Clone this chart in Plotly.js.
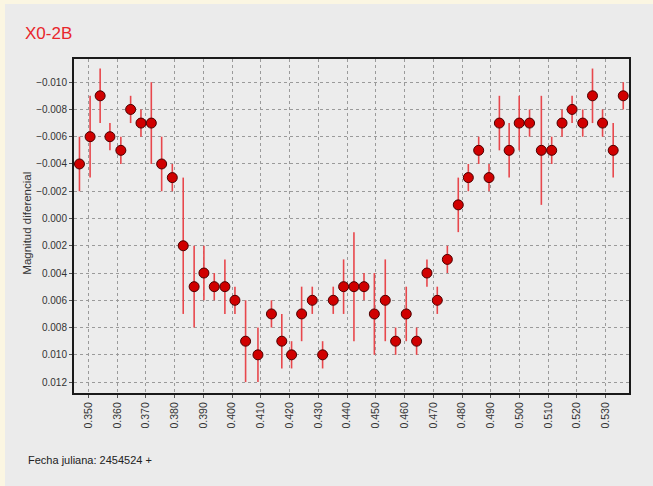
<!DOCTYPE html>
<html>
<head>
<meta charset="utf-8">
<script src="https://cdn.plot.ly/plotly-3.0.1.min.js"></script>
<style>
  html, body { margin: 0; padding: 0; background: #fbf6e2; width: 653px; height: 486px; overflow: hidden; }
  #chart { position: absolute; left: 5px; top: 4px; width: 648px; height: 482px; }
</style>
</head>
<body>
<div id="chart"></div>
<script>
// Julian date fraction (after 2454524)
const fechas = [0.3469,0.3506,0.3541,0.3575,0.3613,0.3647,0.3683,0.3719,0.3755,0.3792,
                0.3830,0.3868,0.3902,0.3938,0.3975,0.4010,0.4047,0.4090,0.4137,0.4173,
                0.4207,0.4242,0.4279,0.4315,0.4352,0.4388,0.4424,0.4459,0.4495,0.4533,
                0.4569,0.4606,0.4642,0.4678,0.4714,0.4749,0.4787,0.4822,0.4858,0.4894,
                0.4930,0.4964,0.4999,0.5035,0.5076,0.5112,0.5148,0.5183,0.5220,0.5254,
                0.5289,0.5326,0.5361];
// Differential magnitude
const magnitudes = [-0.004,-0.006,-0.009,-0.006,-0.005,-0.008,-0.007,-0.007,-0.004,-0.003,
                    0.002,0.005,0.004,0.005,0.005,0.006,0.009,0.010,0.007,0.009,
                    0.010,0.007,0.006,0.010,0.006,0.005,0.005,0.005,0.007,0.006,
                    0.009,0.007,0.009,0.004,0.006,0.003,-0.001,-0.003,-0.005,-0.003,
                    -0.007,-0.005,-0.007,-0.007,-0.005,-0.005,-0.007,-0.008,-0.007,-0.009,
                    -0.007,-0.005,-0.009];
// Error (symmetric)
const errores = [0.002,0.003,0.002,0.001,0.001,0.001,0.001,0.003,0.002,0.001,
                 0.005,0.003,0.002,0.001,0.002,0.001,0.003,0.002,0.001,0.002,
                 0.001,0.002,0.001,0.001,0.001,0.002,0.004,0.001,0.003,0.003,
                 0.001,0.002,0.001,0.001,0.001,0.001,0.002,0.001,0.001,0.001,
                 0.002,0.002,0.002,0.001,0.004,0.001,0.001,0.001,0.001,0.002,
                 0.001,0.002,0.001];

const trace = {
  x: fechas,
  y: magnitudes,
  type: 'scatter',
  mode: 'markers',
  marker: { color: '#d00000', size: 10, line: { color: '#4a0000', width: 1 } },
  error_y: { type: 'data', array: errores, visible: true, color: '#e8474c', thickness: 1.6, width: 0 },
  hoverinfo: 'x+y'
};

const font = { family: 'Liberation Sans, Arial, sans-serif', size: 10, color: '#333333' };

const layout = {
  width: 648, height: 482,
  margin: { l: 69, r: 24, t: 55, b: 93 },
  paper_bgcolor: '#ebebeb',
  plot_bgcolor: '#ececec',
  font: font,
  showlegend: false,
  title: {
    text: 'X0-2B',
    font: { family: 'Liberation Sans, Arial, sans-serif', size: 17, color: '#e8262b' },
    xref: 'container', x: 20/648, xanchor: 'left',
    yref: 'container', y: 1 - 29/482, yanchor: 'middle'
  },
  xaxis: {
    range: [0.3450, 0.5381],
    tick0: 0.35, dtick: 0.01,
    tickformat: '.3f',
    tickangle: -90,
    ticks: 'outside', ticklen: 3, tickcolor: '#555',
    showgrid: true, gridcolor: '#9a9a9a', griddash: '3px,3px', gridwidth: 1,
    showline: true, linecolor: '#1a1a1a', linewidth: 2, mirror: true,
    zeroline: false,
    tickfont: { family: 'Liberation Sans, Arial, sans-serif', size: 10.5, color: '#333333' }
  },
  yaxis: {
    range: [0.0128, -0.0117],
    tick0: 0, dtick: 0.002,
    tickformat: '.3f',
    ticks: 'outside', ticklen: 3, tickcolor: '#555',
    showgrid: true, gridcolor: '#9a9a9a', griddash: '3px,3px', gridwidth: 1,
    showline: true, linecolor: '#1a1a1a', linewidth: 2, mirror: true,
    zeroline: false,
    tickfont: font
  },
  annotations: [
    {
      text: 'Magnitud diferencial', textangle: -90,
      xref: 'paper', yref: 'paper', x: -47/555, y: 0.507,
      xanchor: 'center', yanchor: 'middle', showarrow: false,
      font: { family: 'Liberation Sans, Arial, sans-serif', size: 11.5, color: '#333333' }
    },
    {
      text: 'Fecha juliana: 2454524 +',
      xref: 'paper', yref: 'paper', x: -48/555, y: -0.200,
      xanchor: 'left', yanchor: 'middle', showarrow: false,
      font: { family: 'Liberation Sans, Arial, sans-serif', size: 11, color: '#222222' }
    }
  ]
};

Plotly.newPlot('chart', [trace], layout, { displayModeBar: false, staticPlot: true });
</script>
</body>
</html>
